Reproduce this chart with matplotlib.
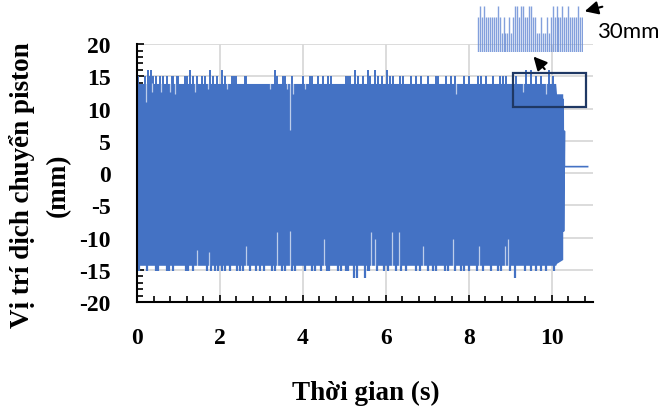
import matplotlib.pyplot as plt
from matplotlib.ticker import MultipleLocator
from matplotlib.patches import Rectangle

plt.rcParams['axes.unicode_minus'] = False

# --- data ---
# solid body of the oscillation (envelope)
t_env = [0.0, 10.10, 10.12, 10.27]
top_env = [13.9, 13.9, 12.3, 12.3]
bot_env = [-14.3, -14.3, -14.0, -13.4]

# peaks sticking out above the body
up_t = [0.03, 0.19, 0.27, 0.31, 0.34, 0.39, 0.47, 0.55, 0.63, 0.72, 0.84, 0.88,
        0.96, 1.00, 1.16, 1.20, 1.28, 1.36, 1.44, 1.56, 1.64, 1.76, 1.84, 1.94,
        2.06, 2.12, 2.28, 2.34, 2.40, 2.60, 2.64, 3.33, 3.37, 3.53, 3.57, 3.75,
        4.01, 4.17, 4.21, 4.37, 4.49, 4.61, 4.69, 5.04, 5.09, 5.13, 5.25, 5.33,
        5.45, 5.57, 5.63, 5.73, 5.82, 5.90, 6.02, 6.10, 6.18, 6.34, 6.42, 6.62,
        6.74, 6.86, 7.02, 7.22, 7.26, 7.46, 7.58, 7.66, 7.90, 8.02, 8.23, 8.31,
        8.43, 8.59, 8.75, 8.83, 8.91, 9.15, 9.39, 9.51, 9.63, 9.75, 9.95, 10.03]
up_v = [15.0, 15.0, 16.0, 15.0, 16.0, 15.0, 15.0, 15.0, 15.0, 15.0, 15.0, 15.0,
        15.0, 15.0, 15.0, 15.0, 16.0, 15.0, 15.0, 15.0, 15.0, 16.0, 15.0, 15.0,
        16.0, 15.0, 15.0, 15.0, 15.0, 15.0, 15.0, 16.0, 15.0, 15.0, 15.0, 15.0,
        15.0, 15.0, 15.0, 15.0, 15.0, 15.0, 15.0, 15.0, 15.0, 15.0, 16.0, 15.0,
        15.0, 16.0, 15.0, 16.0, 15.0, 15.0, 16.0, 15.0, 15.0, 15.0, 15.0, 15.0,
        15.0, 15.0, 15.0, 15.0, 15.0, 15.0, 15.0, 15.0, 15.0, 15.0, 15.0, 15.0,
        15.0, 15.0, 15.0, 15.0, 15.0, 15.0, 16.0, 16.0, 15.0, 15.0, 16.0, 15.0]

# peaks that stay below the upper body edge
dip_t = [0.21, 0.35, 0.59, 0.80, 0.92, 1.40, 1.72, 2.16, 3.21, 3.61, 3.69, 3.77,
         4.05, 7.70, 9.07, 9.31, 9.87]
dip_v = [11.1, 12.6, 12.6, 12.6, 12.2, 12.6, 13.0, 13.0, 13.0, 13.0, 6.7, 12.2,
         13.0, 12.2, 13.0, 12.6, 12.2]

# troughs below the body
dn_t = [0.05, 0.25, 0.46, 0.51, 0.72, 0.78, 0.88, 1.18, 1.24, 1.36, 1.70, 1.78,
        1.88, 1.96, 2.06, 2.12, 2.24, 2.42, 2.48, 2.56, 2.72, 2.87, 2.96, 3.06,
        3.25, 3.33, 3.49, 3.57, 3.73, 3.81, 4.05, 4.23, 4.30, 4.45, 4.59, 4.63,
        4.85, 4.91, 5.04, 5.10, 5.23, 5.31, 5.49, 5.57, 5.60, 5.78, 5.95, 6.06,
        6.24, 6.38, 6.50, 6.74, 6.82, 7.02, 7.14, 7.22, 7.42, 7.50, 7.66, 7.82,
        7.90, 8.02, 8.19, 8.35, 8.55, 8.71, 8.79, 8.99, 9.11, 9.35, 9.51, 9.63,
        9.75, 9.87, 10.07]
dn_v = [-15.2, -15.2, -15.2, -15.2, -15.2, -15.2, -15.2, -15.2, -15.2, -15.2,
        -15.2, -15.2, -15.2, -15.2, -15.2, -15.2, -15.2, -15.2, -15.2, -15.2,
        -15.2, -15.2, -15.2, -15.2, -15.2, -15.2, -15.2, -15.2, -15.2, -15.2,
        -15.2, -15.2, -15.2, -15.2, -15.2, -15.2, -15.2, -15.2, -15.2, -15.2,
        -16.2, -16.2, -16.2, -15.2, -15.2, -15.2, -15.2, -15.2, -15.2, -15.2,
        -15.2, -15.2, -15.2, -15.2, -15.2, -15.2, -15.2, -15.2, -15.2, -15.2,
        -15.2, -15.2, -15.2, -15.2, -15.2, -15.2, -15.2, -15.2, -16.2, -15.2,
        -15.2, -15.2, -15.2, -15.2, -15.2]

# troughs that stay above the lower body edge
rise_t = [1.44, 1.74, 2.63, 3.37, 3.70, 4.51, 5.65, 5.73, 6.15, 6.32, 6.90, 7.62,
          8.26, 8.87, 8.95]
rise_v = [-12.0, -12.3, -11.3, -9.2, -9.0, -10.2, -9.2, -10.2, -9.2, -9.2, -11.3,
          -10.2, -11.3, -11.3, -10.2]

# piston stops and rests at ~1 mm
tail_t = [10.28, 10.29, 10.31, 10.31, 10.87]
tail_y = [11.4, -9.0, 6.5, 1.0, 1.0]

# zoomed detail (inset)
inset_t = [9.10, 9.12, 9.14, 9.16, 9.18, 9.20, 9.22, 9.24, 9.26, 9.28, 9.30, 9.32,
           9.34, 9.36, 9.38, 9.40, 9.42, 9.44, 9.46, 9.48, 9.50, 9.52, 9.54, 9.56,
           9.58, 9.60, 9.62, 9.64, 9.66, 9.68, 9.70, 9.72, 9.74, 9.76, 9.78, 9.80,
           9.82, 9.84, 9.86, 9.88, 9.90, 9.92, 9.94, 9.96, 9.98, 10.00, 10.02, 10.04,
           10.06, 10.08, 10.10, 10.12, 10.14, 10.16]
inset_v = [14.4, 15.8, 14.4, 15.8, 14.4, 14.4, 14.4, 14.4, 14.4, 14.4, 15.8, 14.4,
           12.4, 14.4, 12.4, 12.4, 14.4, 12.4, 14.4, 15.8, 15.8, 14.4, 15.8, 15.8,
           14.4, 14.4, 15.8, 15.8, 14.4, 14.4, 12.4, 12.4, 14.4, 12.4, 12.4, 14.4,
           12.4, 14.4, 15.8, 14.4, 15.8, 14.4, 14.4, 15.8, 14.4, 14.4, 15.8, 14.4,
           14.4, 14.4, 14.4, 15.8, 14.4, 14.4]

blue = '#4472C4'
serif = ['Liberation Serif', 'DejaVu Serif']

fig = plt.figure(figsize=(6.58, 4.14), dpi=100)
ax = fig.add_axes([0.2082, 0.268, 0.693, 0.623])

ax.fill_between(t_env, bot_env, top_env, color=blue, lw=0, zorder=2)
ax.vlines(up_t, 13.8, up_v, color=blue, lw=1.4, zorder=2)
ax.vlines(dn_t, -14.2, dn_v, color=blue, lw=1.6, zorder=2)
ax.vlines(dip_t, dip_v, 14.0, color='white', alpha=0.65, lw=0.9, zorder=3)
ax.vlines(rise_t, -14.4, rise_v, color='white', alpha=0.65, lw=0.9, zorder=3)
ax.plot(tail_t, tail_y, color=blue, lw=1.2, zorder=2)

# box around the zoomed region
ax.add_patch(Rectangle((9.06, 10.3), 1.78, 5.17, fill=False,
                       edgecolor='#1F3864', lw=1.6, zorder=4))
ax.annotate('', xy=(9.52, 18.4), xytext=(9.88, 15.8),
            arrowprops=dict(arrowstyle='-|>', color='black', lw=1.5,
                            mutation_scale=20), zorder=5)

ax.set_xlim(0, 11)
ax.set_ylim(-20, 20)
ax.xaxis.set_major_locator(MultipleLocator(2))
ax.xaxis.set_minor_locator(MultipleLocator(0.4))
ax.yaxis.set_major_locator(MultipleLocator(5))
ax.yaxis.set_minor_locator(MultipleLocator(1))
ax.set_xticks([0, 2, 4, 6, 8, 10])
ax.grid(True, which='major', color='#D9D9D9', lw=1.3, zorder=0)
ax.set_axisbelow(True)
for s in ['top', 'right']:
    ax.spines[s].set_visible(False)
for s in ['left', 'bottom']:
    ax.spines[s].set_linewidth(1.5)
    ax.spines[s].set_zorder(6)
ax.tick_params(which='both', direction='in', width=1.2, color='black')
ax.tick_params(which='major', length=5)
ax.tick_params(which='minor', length=4)
ax.tick_params(axis='y', which='major', pad=19)
ax.tick_params(axis='x', which='major', pad=18)
for lab in ax.get_xticklabels() + ax.get_yticklabels():
    lab.set_fontfamily(serif)
    lab.set_fontweight('bold')
    lab.set_fontsize(17)

ax.set_xlabel('Thời gian (s)', family=serif, fontweight='bold', fontsize=19.5,
              va='center')
ax.xaxis.set_label_coords(0.502, -0.349)
ax.set_ylabel('Vị trí dịch chuyển piston\n(mm)', family=serif, fontweight='bold',
              fontsize=19.5, va='center', linespacing=1.6)
ax.yaxis.set_label_coords(-0.213, 0.457)

# inset with the zoomed signal
axi = fig.add_axes([0.725, 0.872, 0.161, 0.116])
axi.vlines(inset_t, 10, inset_v, color='#6d8fd6', alpha=0.85, lw=1.0)
axi.set_xlim(9.09, 10.17)
axi.set_ylim(10, 16)
axi.axis('off')

fig.text(0.907, 0.9227, '30mm', family=['Lato', 'DejaVu Sans'], fontsize=16,
         va='center', ha='left')
ax.annotate('', xy=(0.8845, 0.9686), xycoords='figure fraction',
            xytext=(0.9195, 0.9831), textcoords='figure fraction',
            arrowprops=dict(arrowstyle='-|>', color='black', lw=1.5,
                            mutation_scale=20), annotation_clip=False)

fig.savefig('out.png', dpi=100)
